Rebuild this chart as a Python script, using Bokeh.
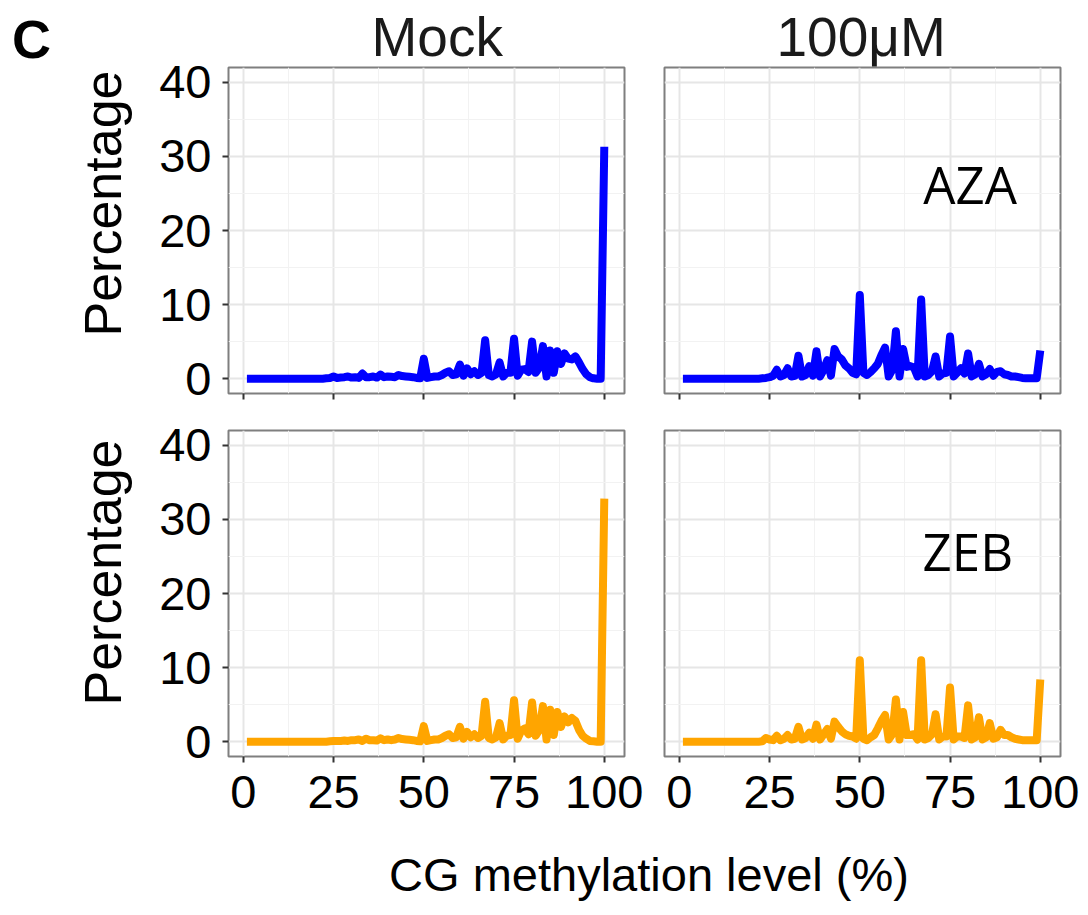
import math
from bokeh.plotting import figure
from bokeh.layouts import column, row
from bokeh.models import FixedTicker, Range1d, Title
from bokeh.core.properties import value
from bokeh.embed import file_html
from bokeh.resources import INLINE

# ---------------- data ----------------
levels = list(range(1, 101))  # CG methylation level (%)

aza_mock = [0, 0, 0, 0, 0, 0, 0, 0, 0, 0,
            0, 0, 0, 0, 0, 0, 0, 0, 0, 0,
            0, 0, 0.05, 0.1, 0.3, 0.1, 0.15, 0.2, 0.3, 0.15,
            0.2, 0.1, 0.7, 0.2, 0.2, 0.3, 0.15, 0.55, 0.2, 0.3,
            0.25, 0.2, 0.5, 0.35, 0.3, 0.25, 0.2, 0.1, 0.05, 2.7,
            0.1, 0.2, 0.3, 0.3, 0.5, 0.8, 1.0, 0.5, 0.6, 1.9,
            0.4, 1.4, 0.6, 1.0, 0.5, 0.8, 5.2, 0.5, 0.3, 0.6,
            2.2, 0.3, 0.8, 0.8, 5.4, 0.4, 1.2, 1.3, 0.9, 5.0,
            0.8, 1.5, 4.4, 0.3, 3.8, 0.8, 3.7, 2.0, 3.4, 2.7,
            2.6, 3.0, 2.2, 1.3, 0.6, 0.2, 0.05, 0, 0, 31.3]

aza_100 = [0, 0, 0, 0, 0, 0, 0, 0, 0, 0,
           0, 0, 0, 0, 0, 0, 0, 0, 0, 0,
           0, 0, 0.05, 0.1, 0.2, 0.4, 1.2, 0.3, 0.5, 1.4,
           0.3, 0.4, 3.1, 0.3, 0.5, 1.7, 0.4, 3.7, 0.3, 1.2,
           2.5, 0.4, 4.0, 3.0, 2.6, 1.8, 1.4, 0.8, 0.6, 11.3,
           0.8, 0.5, 0.9, 1.4, 2.0, 3.2, 4.2, 0.3, 1.2, 6.4,
           0.3, 4.0, 1.6, 1.7, 1.5, 0.3, 10.7, 0.3, 0.5, 1.0,
           3.0, 0.3, 0.7, 0.8, 5.7, 0.3, 0.8, 1.4, 0.7, 3.4,
           0.3, 0.6, 2.0, 0.3, 0.6, 1.3, 0.4, 0.9, 1.0, 0.6,
           0.5, 0.3, 0.3, 0.2, 0.1, 0.05, 0.05, 0.05, 0.05, 3.8]

zeb_mock = [0, 0, 0, 0, 0, 0, 0, 0, 0, 0,
            0, 0, 0, 0, 0, 0, 0, 0, 0, 0,
            0, 0, 0, 0.05, 0.1, 0.1, 0.1, 0.15, 0.1, 0.2,
            0.2, 0.3, 0.1, 0.4, 0.2, 0.2, 0.15, 0.45, 0.2, 0.3,
            0.2, 0.3, 0.5, 0.35, 0.3, 0.25, 0.2, 0.1, 0.05, 2.1,
            0.1, 0.2, 0.3, 0.3, 0.5, 0.8, 1.0, 0.5, 0.6, 2.0,
            0.4, 1.3, 0.6, 1.0, 0.5, 0.8, 5.4, 0.5, 0.3, 0.6,
            2.5, 0.3, 0.8, 0.9, 5.6, 0.4, 1.5, 1.8, 1.0, 5.3,
            0.8, 1.6, 4.8, 0.3, 4.3, 0.9, 4.0, 2.0, 3.4, 2.6,
            3.2, 2.8, 1.6, 0.8, 0.4, 0.1, 0.05, 0, 0, 32.8]

zeb_100 = [0, 0, 0, 0, 0, 0, 0, 0, 0, 0,
           0, 0, 0, 0, 0, 0, 0, 0, 0, 0,
           0, 0, 0.05, 0.5, 0.3, 0.2, 0.8, 0.2, 0.4, 0.9,
           0.3, 0.4, 2.0, 0.3, 0.5, 1.2, 0.4, 2.3, 0.3, 1.0,
           1.7, 0.4, 2.7, 2.0, 1.4, 1.0, 0.8, 0.7, 0.4, 11.0,
           0.4, 0.2, 0.6, 0.9, 1.8, 2.8, 3.6, 0.3, 1.0, 5.7,
           0.3, 4.0, 0.9, 0.9, 1.0, 0.3, 11.0, 0.3, 0.5, 1.0,
           3.7, 0.3, 0.7, 0.7, 7.3, 0.3, 0.7, 0.7, 0.5, 4.9,
           0.3, 0.6, 3.3, 0.3, 0.6, 2.5, 0.4, 0.6, 1.6, 0.9,
           0.9, 0.6, 0.4, 0.3, 0.2, 0.2, 0.2, 0.2, 0.2, 8.4]

x_ticks = [0, 25, 50, 75, 100]
x_minor = [12.5, 37.5, 62.5, 87.5]
y_ticks = [0, 10, 20, 30, 40]
y_minor = [5, 15, 25, 35]
col_titles = ["Mock", "100\u03bcM"]
row_labels = ["AZA", "ZEB"]
colors = ["#0000ff", "#ffa500"]
y_title = "Percentage"
x_title = "CG methylation level (%)"
panel_tag = "C"

FONT = "Liberation Sans"
FRAME_W, FRAME_H = 396, 326
STRIP_W = 140
TOP_H = 67 + FRAME_H + 12      # row 1 height
BOT_H = 25 + FRAME_H + 80      # row 2 height
GRID_H = TOP_H + BOT_H
FOOT_H = 915 - GRID_H
TOTAL_W = 1080


def panel(xs, ys, color, left, right, top, bottom, show_y, show_xlabels):
    p = figure(frame_width=FRAME_W, frame_height=FRAME_H,
               x_range=Range1d(-4.1, 105.6), y_range=Range1d(-2, 42),
               min_border_left=left, min_border_right=right,
               min_border_top=top, min_border_bottom=bottom,
               toolbar_location=None, output_backend="svg")
    p.background_fill_color = "white"
    p.border_fill_color = "white"
    p.outline_line_color = "#7f7f7f"
    p.outline_line_width = 2

    xt = FixedTicker(ticks=x_ticks, minor_ticks=x_minor)
    yt = FixedTicker(ticks=y_ticks, minor_ticks=y_minor)
    p.xaxis.ticker = xt
    p.yaxis.ticker = yt
    p.xgrid.ticker = xt
    p.ygrid.ticker = yt
    for g in (p.xgrid, p.ygrid):
        g.grid_line_color = "#e6e6e6"
        g.grid_line_width = 2
        g.minor_grid_line_color = "#f2f2f2"
        g.minor_grid_line_width = 1

    for ax in (p.xaxis, p.yaxis):
        ax.axis_line_color = None
        ax.major_tick_line_color = "#333333"
        ax.major_tick_line_width = 2
        ax.major_tick_in = 0
        ax.major_tick_out = 6
        ax.minor_tick_line_color = None
        ax.major_label_text_font = FONT
        ax.major_label_text_font_size = "47px"
        ax.major_label_text_color = "black"

    p.xaxis.major_label_standoff = 13
    if not show_xlabels:
        p.xaxis.major_label_text_font_size = "0px"
        p.xaxis.major_label_text_color = None
        p.xaxis.major_label_standoff = 0

    if show_y:
        p.yaxis.major_label_standoff = 11
    else:
        p.yaxis.visible = False

    p.line(xs, ys, line_color=color, line_width=8,
           line_join="round", line_cap="butt")
    return p


tl = panel(levels, aza_mock, colors[0], 228 - STRIP_W, 20, 67, 12, True, False)
tr = panel(levels, aza_100, colors[0], 20, 20, 67, 12, False, False)
bl = panel(levels, zeb_mock, colors[1], 228 - STRIP_W, 20, 25, 80, True, True)
br = panel(levels, zeb_100, colors[1], 20, 20, 25, 80, False, True)

# column (strip) titles
tl.add_layout(Title(text=col_titles[0], align="left", offset=143, standoff=0,
                    text_font=FONT, text_font_size="55px",
                    text_font_style="normal", text_color="#1a1a1a"), "above")
tr.add_layout(Title(text=col_titles[1], align="left", offset=112, standoff=0,
                    text_font=FONT, text_font_size="55px",
                    text_font_style="normal", text_color="#1a1a1a"), "above")

# row labels (inside the right panels)
tr.text(x=[67.6], y=[26.3], text=[row_labels[0]], text_align="left",
        text_baseline="middle", text_font=value("Open Sans"),
        text_font_size="51px", text_color="black")
br.text(x=[67.4], y=[25.8], text=[row_labels[1]], text_align="left",
        text_baseline="middle", text_font=value("Open Sans"),
        text_font_size="51px", text_color="black")

# left strip: panel letter and y-axis titles
strip = figure(width=STRIP_W, height=GRID_H, x_range=Range1d(0, STRIP_W),
               y_range=Range1d(0, GRID_H), min_border=0,
               toolbar_location=None, output_backend="svg")
strip.axis.visible = False
strip.grid.visible = False
strip.outline_line_color = None
strip.text(x=[11.5], y=[GRID_H - 38.3], text=[panel_tag], text_align="left",
           text_baseline="middle", text_font=value(FONT), text_font_style="bold",
           text_font_size="54px", text_color="black")
strip.text(x=[102, 102], y=[GRID_H - 203, GRID_H - 572], text=[y_title, y_title],
           angle=math.pi / 2, text_align="center", text_baseline="middle",
           text_font=value(FONT), text_font_size="52px", text_color="black")

# shared x-axis title
fx = figure(width=TOTAL_W, height=FOOT_H, x_range=Range1d(0, TOTAL_W),
            y_range=Range1d(0, FOOT_H), min_border=0,
            toolbar_location=None, output_backend="svg")
fx.axis.visible = False
fx.grid.visible = False
fx.outline_line_color = None
fx.text(x=[648.5], y=[FOOT_H - (890 - GRID_H) + 16], text=[x_title],
        text_align="center", text_baseline="middle",
        text_font=value(FONT), text_font_size="47px", text_color="black")

layout = column(row(strip, column(row(tl, tr), row(bl, br))), fx)
open("out.html", "w").write(file_html(layout, INLINE))
